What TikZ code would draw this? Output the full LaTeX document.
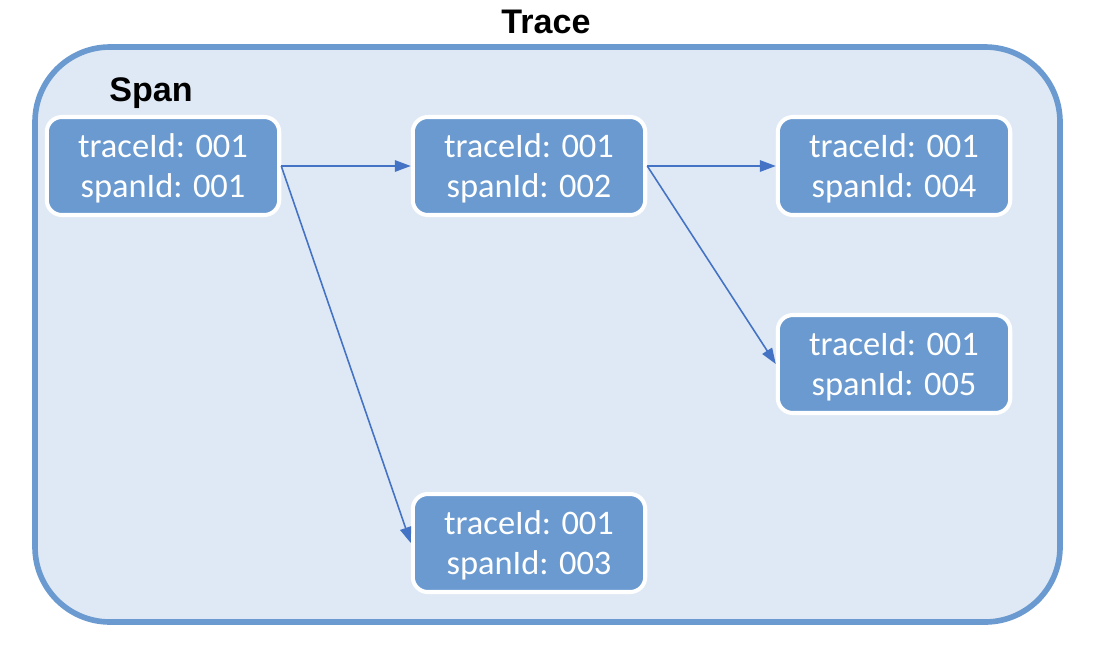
\documentclass[tikz,border=0pt]{standalone}
\usepackage{fontspec}
\setmainfont{Carlito}
\newfontfamily\titlefont{Liberation Sans}
\usetikzlibrary{arrows.meta}
\definecolor{traceline}{HTML}{6A9AD0}
\definecolor{tracefill}{HTML}{DFE9F5}
\definecolor{spanfill}{HTML}{6A9AD0}
\definecolor{linkblue}{HTML}{4472C4}
\tikzset{
	spanbox/.style={draw=white, line width=2.3pt, fill=spanfill, rounded corners=0.3cm,
		minimum width=4.65cm, minimum height=1.96cm, align=center, text=white,
		font=\fontsize{19.6}{22.8}\selectfont, inner sep=0pt, text depth=0pt},
	titletext/.style={font=\titlefont\bfseries\fontsize{19.4}{22}\selectfont},
	link/.style={draw=linkblue, line width=0.9pt, -{Triangle[length=9pt,width=6.5pt]}}
}

\begin{document}
\begin{tikzpicture}[x=0.02cm, y=-0.02cm]
		%%%%% START %%%%%
		
		\useasboundingbox (0, 0) rectangle (1094, 646);
		
		\draw[traceline, line width=3.2pt, fill=tracefill, rounded corners=1.5cm] (35, 47) rectangle (1060, 622);
		\node[titletext] (trace) at (546, 22) {Trace};
		\node[titletext] (span) at (151, 93) {Span};
		
		\node[spanbox] (s1) at (163, 166) {traceId: 001\\spanId: 001};
		\node[spanbox] (s2) at (529, 166) {traceId: 001\\spanId: 002};
		\node[spanbox] (s3) at (529, 543) {traceId: 001\\spanId: 003};
		\node[spanbox] (s4) at (894, 166) {traceId: 001\\spanId: 004};
		\node[spanbox] (s5) at (894, 364) {traceId: 001\\spanId: 005};
		
		\draw[link] (s1.east) -- (s2.west);
		\draw[link] (s1.east) -- (s3.west);
		\draw[link] (s2.east) -- (s4.west);
		\draw[link] (s2.east) -- (s5.west);
		
		%%%%% END %%%%%
	\end{tikzpicture}
\end{document}
